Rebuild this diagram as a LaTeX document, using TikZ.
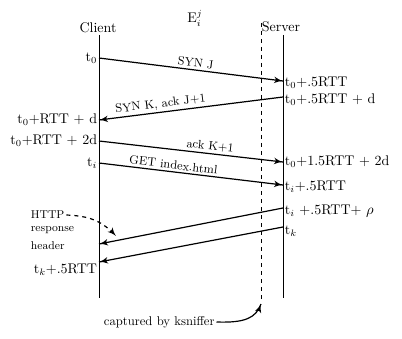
\documentclass[tikz,border=0pt]{standalone}
\usetikzlibrary{positioning}
\usetikzlibrary{arrows}
\usetikzlibrary{decorations.markings}
\tikzset{msg/.style = {decoration={markings,
                                   mark=at position 0.999
                                   with {\arrow[scale=1.2]{latex'}}},
                       postaction={decorate}}}
\tikzset{tlabel/.style = {inner sep=1pt, font=\fontsize{10.5}{12}\selectfont}}
\tikzset{mlabel/.style = {inner sep=1.5pt, sloped, above, font=\fontsize{9}{10}\selectfont}}
\tikzset{note/.style = {inner sep=1pt, font=\fontsize{8.5}{10}\selectfont}}
\tikzset{
  every picture/.style={
    every path/.style={line width=0.9pt},
  }
}
\begin{document}
\begin{tikzpicture}[x=0.75pt, y=-0.75pt]
  \useasboundingbox (0,0) rectangle (402,338);
  % headings
  \node[tlabel] (title) at (195,18) {E$_i^j$};
  \node[tlabel] (client) at (98,28) {Client};
  \node[tlabel] (server) at (281,27) {Server};
  % time lines
  \coordinate (ctop) at (99,35);  \coordinate (cbot) at (99,298);
  \coordinate (stop) at (283,35); \coordinate (sbot) at (283,298);
  \coordinate (dtop) at (261,23); \coordinate (dbot) at (261,302);
  \draw[line width=0.6pt] (ctop) -- (cbot);
  \draw[line width=0.6pt] (stop) -- (sbot);
  \draw[line width=0.6pt, dashed] (dtop) -- (dbot);
  % message end points
  \coordinate (c0) at (99,58);  \coordinate (s0) at (283,81);
  \coordinate (s1) at (283,97); \coordinate (c1) at (99,120);
  \coordinate (c2) at (99,141); \coordinate (s2) at (283,162);
  \coordinate (c3) at (99,163); \coordinate (s3) at (283,185);
  \coordinate (s4) at (283,208); \coordinate (c4) at (99,244);
  \coordinate (s5) at (283,227); \coordinate (c5) at (99,262);
  % messages
  \draw[msg] (c0) -- node[mlabel, pos=0.52] {SYN J} (s0);
  \draw[msg] (s1) -- node[mlabel, pos=0.66] {SYN K, ack J+1} (c1);
  \draw[msg] (c2) -- node[mlabel, pos=0.6] {ack K+1} (s2);
  \draw[msg] (c3) -- node[mlabel, pos=0.4] {GET index.html} (s3);
  \draw[msg] (s4) -- (c4);
  \draw[msg] (s5) -- (c5);
  % times at the client
  \node[tlabel, anchor=east] (tc0) at (c0) {t$_0$};
  \node[tlabel, anchor=east] (tc1) at (c1) {t$_0$+RTT + d};
  \node[tlabel, anchor=east] (tc2) at (c2) {t$_0$+RTT + 2d};
  \node[tlabel, anchor=east] (tc3) at (c3) {t$_i$};
  \node[tlabel, anchor=east] (tc5) at ([yshift=-6]c5) {t$_k$+.5RTT};
  % times at the server
  \node[tlabel, anchor=west] (ts0) at ([yshift=-1]s0) {t$_0$+.5RTT};
  \node[tlabel, anchor=west] (ts1) at ([yshift=-2]s1) {t$_0$+.5RTT + d};
  \node[tlabel, anchor=west] (ts2) at (s2) {t$_0$+1.5RTT + 2d};
  \node[tlabel, anchor=west] (ts3) at ([yshift=-1]s3) {t$_i$+.5RTT};
  \node[tlabel, anchor=west] (ts4) at ([yshift=-2]s4) {t$_i$ +.5RTT+ $\rho$};
  \node[tlabel, anchor=west] (ts5) at ([yshift=-3]s5) {t$_k$};
  % notes
  \node[note, anchor=west] (http) at (29,215) {HTTP};
  \node[note, anchor=west] (resp) at (29,230) {response};
  \node[note, anchor=west] (hdr) at (29,246) {header};
  \coordinate (hdrtip) at (116,236);
  \draw[dashed, msg] (http.east) .. controls (90,216) and (102,221) .. (hdrtip);
  \node[note, font=\fontsize{9.5}{11}\selectfont, anchor=west] (cap) at (102,322) {captured by ksniffer};
  \coordinate (dtip) at (261,304);
  \draw[msg] (cap.east) .. controls (245,323) and (256,318) .. (dtip);
\end{tikzpicture}
\end{document}
